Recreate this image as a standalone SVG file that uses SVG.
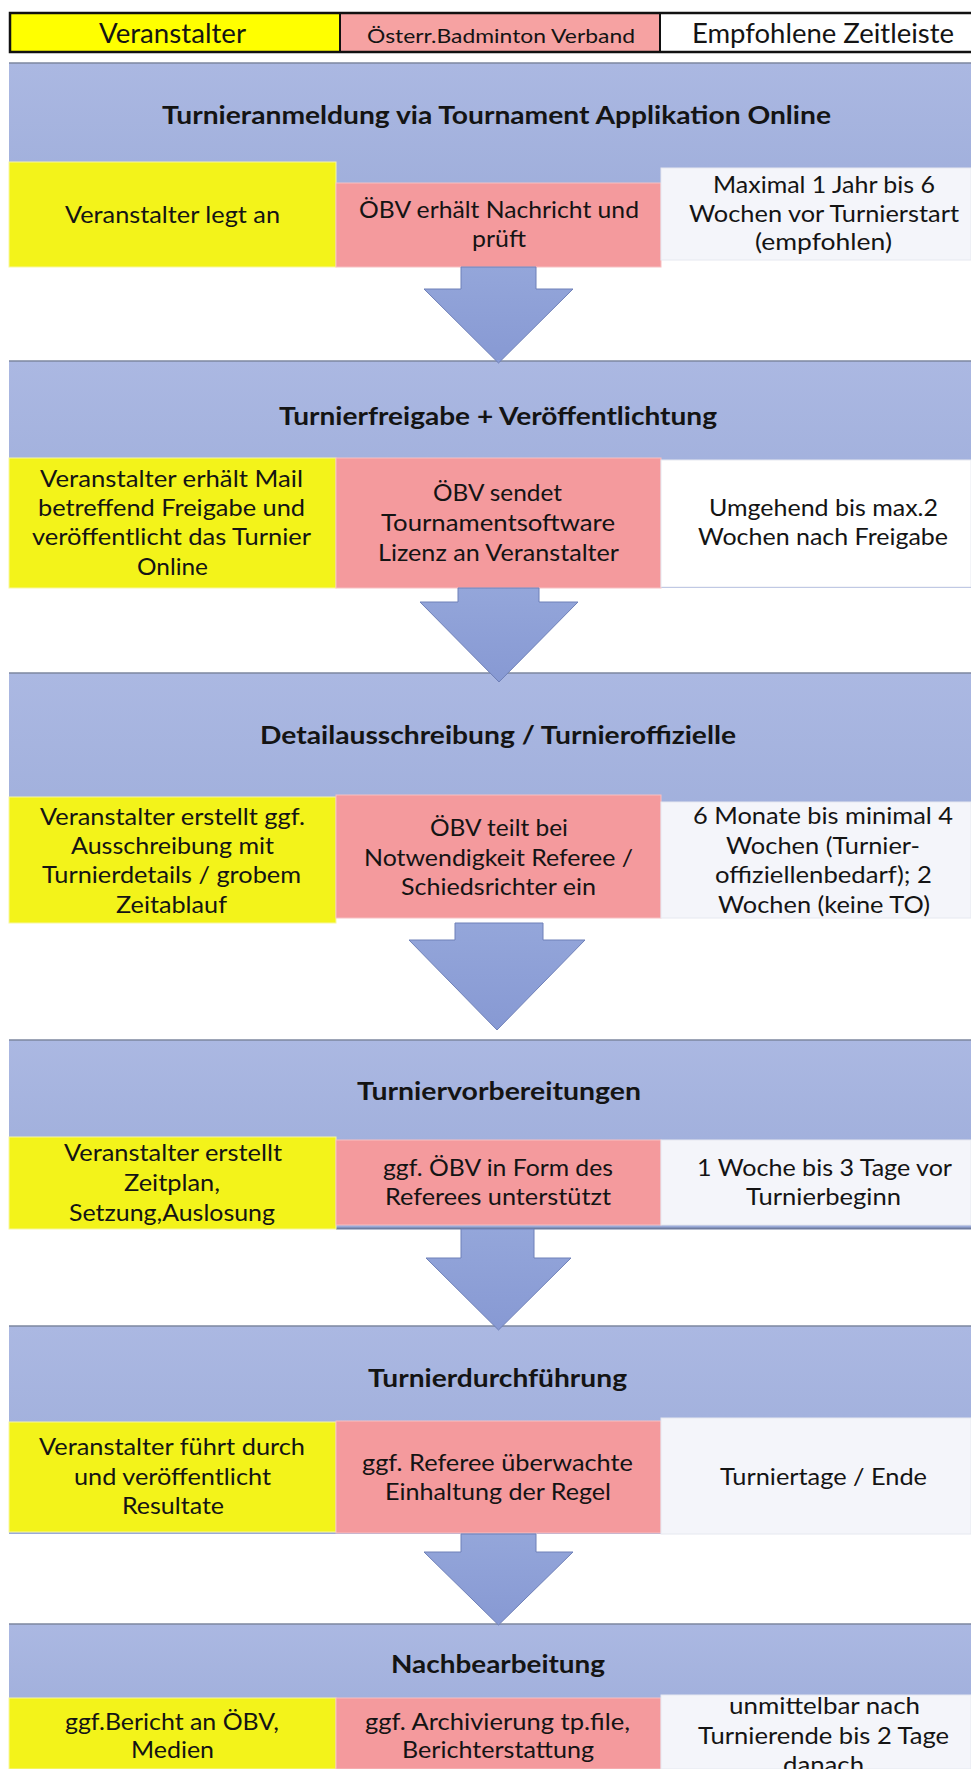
<svg xmlns="http://www.w3.org/2000/svg" width="971" height="1769" viewBox="0 0 971 1769">
<defs>
<linearGradient id="bandGrad" x1="0" y1="0" x2="0" y2="1">
<stop offset="0" stop-color="#abb8e2"/>
<stop offset="1" stop-color="#9aaad8"/>
</linearGradient>
<linearGradient id="arrowGrad" x1="0" y1="0" x2="0" y2="1">
<stop offset="0" stop-color="#94a6da"/>
<stop offset="1" stop-color="#8799d3"/>
</linearGradient>
</defs>
<style>
text{font-family:Lato,"Open Sans","Liberation Sans",sans-serif;fill:#141414}
.b{font-size:23px}
.t{font-size:25px;font-weight:bold}
.h{font-size:27px}
.hs{font-size:20px}
.band{fill:url(#bandGrad)}
.bandTop{stroke:#7c879f;stroke-width:1.5}
.y{fill:#f3f31a;stroke:#f7f7a0;stroke-width:1}
.p{fill:#f49a9d;stroke:#f7c0c2;stroke-width:1}
.w{fill:#f4f5fa;stroke:#e6e8f0;stroke-width:1}
.arrow{fill:url(#arrowGrad);stroke:#6f80b8;stroke-width:1}
</style>
<rect x="0" y="0" width="971" height="1769" fill="#ffffff"/>

<g id="header">
<rect x="10" y="13" width="330" height="39" fill="#ffff00"/>
<rect x="340" y="13" width="320" height="39" fill="#f6a2a2"/>
<rect x="660" y="13" width="311" height="39" fill="#ffffff"/>
<rect x="10" y="13" width="963" height="39" fill="none" stroke="#111" stroke-width="2.5"/>
<line x1="340" y1="13" x2="340" y2="52" stroke="#111" stroke-width="2"/>
<line x1="660" y1="13" x2="660" y2="52" stroke="#111" stroke-width="2"/>
<text class="h" x="99" y="43" textLength="147" lengthAdjust="spacingAndGlyphs">Veranstalter</text>
<text class="hs" x="367" y="43" textLength="268" lengthAdjust="spacingAndGlyphs">Österr.Badminton Verband</text>
<text class="h" x="692" y="43" textLength="262" lengthAdjust="spacingAndGlyphs">Empfohlene Zeitleiste</text>
</g>

<g id="step1">
<rect class="band" x="9" y="63" width="962" height="197"/>
<line class="bandTop" x1="9" y1="63" x2="971" y2="63"/>
<text class="t" x="162" y="124" textLength="669" lengthAdjust="spacingAndGlyphs">Turnieranmeldung via Tournament Applikation Online</text>
<rect class="y" x="9" y="162" width="327" height="105"/>
<rect class="p" x="336" y="183" width="325" height="84"/>
<rect class="w" x="661" y="168" width="310" height="92"/>
<text class="b" x="65" y="223" textLength="215" lengthAdjust="spacingAndGlyphs">Veranstalter legt an</text>
<text class="b" x="359" y="218" textLength="280" lengthAdjust="spacingAndGlyphs">ÖBV erhält Nachricht und</text>
<text class="b" x="472" y="247" textLength="54" lengthAdjust="spacingAndGlyphs">prüft</text>
<text class="b" x="713" y="193" textLength="222" lengthAdjust="spacingAndGlyphs">Maximal 1 Jahr bis 6</text>
<text class="b" x="689" y="222" textLength="270" lengthAdjust="spacingAndGlyphs">Wochen vor Turnierstart</text>
<text class="b" x="755" y="250" textLength="137" lengthAdjust="spacingAndGlyphs">(empfohlen)</text>
</g>

<g id="step2">
<rect class="band" x="9" y="361" width="962" height="227"/>
<line class="bandTop" x1="9" y1="361" x2="971" y2="361"/>
<text class="t" x="279" y="425" textLength="438" lengthAdjust="spacingAndGlyphs">Turnierfreigabe + Veröffentlichtung</text>
<rect class="y" x="9" y="458" width="327" height="130"/>
<rect class="p" x="336" y="458" width="325" height="130"/>
<rect x="661" y="460" width="310" height="127" fill="#ffffff" stroke="#e6e8f0" stroke-width="1"/>
<text class="b" x="40" y="487" textLength="263" lengthAdjust="spacingAndGlyphs">Veranstalter erhält Mail</text>
<text class="b" x="38" y="516" textLength="267" lengthAdjust="spacingAndGlyphs">betreffend Freigabe und</text>
<text class="b" x="32" y="545" textLength="279" lengthAdjust="spacingAndGlyphs">veröffentlicht das Turnier</text>
<text class="b" x="137" y="575" textLength="71" lengthAdjust="spacingAndGlyphs">Online</text>
<text class="b" x="433" y="501" textLength="129" lengthAdjust="spacingAndGlyphs">ÖBV sendet</text>
<text class="b" x="381" y="531" textLength="234" lengthAdjust="spacingAndGlyphs">Tournamentsoftware</text>
<text class="b" x="378" y="561" textLength="241" lengthAdjust="spacingAndGlyphs">Lizenz an Veranstalter</text>
<text class="b" x="709" y="516" textLength="229" lengthAdjust="spacingAndGlyphs">Umgehend bis max.2</text>
<text class="b" x="698" y="545" textLength="250" lengthAdjust="spacingAndGlyphs">Wochen nach Freigabe</text>
</g>

<g id="step3">
<rect class="band" x="9" y="673" width="962" height="245"/>
<line class="bandTop" x1="9" y1="673" x2="971" y2="673"/>
<text class="t" x="260" y="744" textLength="476" lengthAdjust="spacingAndGlyphs">Detailausschreibung / Turnieroffizielle</text>
<rect class="y" x="9" y="797" width="327" height="126"/>
<rect class="p" x="336" y="795" width="325" height="123"/>
<rect class="w" x="661" y="802" width="310" height="116"/>
<text class="b" x="40" y="825" textLength="265" lengthAdjust="spacingAndGlyphs">Veranstalter erstellt ggf.</text>
<text class="b" x="71" y="854" textLength="203" lengthAdjust="spacingAndGlyphs">Ausschreibung mit</text>
<text class="b" x="42" y="883" textLength="259" lengthAdjust="spacingAndGlyphs">Turnierdetails / grobem</text>
<text class="b" x="116" y="913" textLength="111" lengthAdjust="spacingAndGlyphs">Zeitablauf</text>
<text class="b" x="430" y="836" textLength="138" lengthAdjust="spacingAndGlyphs">ÖBV teilt bei</text>
<text class="b" x="364" y="866" textLength="269" lengthAdjust="spacingAndGlyphs">Notwendigkeit Referee /</text>
<text class="b" x="401" y="895" textLength="195" lengthAdjust="spacingAndGlyphs">Schiedsrichter ein</text>
<text class="b" x="693" y="824" textLength="260" lengthAdjust="spacingAndGlyphs">6 Monate bis minimal 4</text>
<text class="b" x="726" y="854" textLength="194" lengthAdjust="spacingAndGlyphs">Wochen (Turnier-</text>
<text class="b" x="715" y="883" textLength="217" lengthAdjust="spacingAndGlyphs">offiziellenbedarf); 2</text>
<text class="b" x="718" y="913" textLength="212" lengthAdjust="spacingAndGlyphs">Wochen (keine TO)</text>
</g>

<g id="step4">
<rect class="band" x="9" y="1040" width="962" height="189"/>
<line class="bandTop" x1="9" y1="1040" x2="971" y2="1040"/>
<line x1="336" y1="1228.5" x2="971" y2="1228.5" stroke="#6f7ca0" stroke-width="2"/>
<text class="t" x="357" y="1100" textLength="284" lengthAdjust="spacingAndGlyphs">Turniervorbereitungen</text>
<rect class="y" x="9" y="1137" width="327" height="92"/>
<rect class="p" x="336" y="1140" width="325" height="85"/>
<rect class="w" x="661" y="1140" width="310" height="85"/>
<text class="b" x="64" y="1161" textLength="218" lengthAdjust="spacingAndGlyphs">Veranstalter erstellt</text>
<text class="b" x="124" y="1191" textLength="96" lengthAdjust="spacingAndGlyphs">Zeitplan,</text>
<text class="b" x="69" y="1221" textLength="206" lengthAdjust="spacingAndGlyphs">Setzung,Auslosung</text>
<text class="b" x="383" y="1176" textLength="230" lengthAdjust="spacingAndGlyphs">ggf. ÖBV in Form des</text>
<text class="b" x="385" y="1205" textLength="226" lengthAdjust="spacingAndGlyphs">Referees unterstützt</text>
<text class="b" x="697" y="1176" textLength="255" lengthAdjust="spacingAndGlyphs">1 Woche bis 3 Tage vor</text>
<text class="b" x="746" y="1205" textLength="155" lengthAdjust="spacingAndGlyphs">Turnierbeginn</text>
</g>

<g id="step5">
<rect class="band" x="9" y="1326" width="962" height="208"/>
<line class="bandTop" x1="9" y1="1326" x2="971" y2="1326"/>
<text class="t" x="368" y="1387" textLength="259" lengthAdjust="spacingAndGlyphs">Turnierdurchführung</text>
<rect class="y" x="9" y="1422" width="327" height="110"/>
<rect class="p" x="336" y="1421" width="325" height="112"/>
<rect class="w" x="661" y="1418" width="310" height="116"/>
<text class="b" x="39" y="1455" textLength="266" lengthAdjust="spacingAndGlyphs">Veranstalter führt durch</text>
<text class="b" x="74" y="1485" textLength="197" lengthAdjust="spacingAndGlyphs">und veröffentlicht</text>
<text class="b" x="122" y="1514" textLength="102" lengthAdjust="spacingAndGlyphs">Resultate</text>
<text class="b" x="362" y="1471" textLength="271" lengthAdjust="spacingAndGlyphs">ggf. Referee überwachte</text>
<text class="b" x="385" y="1500" textLength="226" lengthAdjust="spacingAndGlyphs">Einhaltung der Regel</text>
<text class="b" x="720" y="1485" textLength="207" lengthAdjust="spacingAndGlyphs">Turniertage / Ende</text>
</g>

<g id="step6">
<rect class="band" x="9" y="1624" width="962" height="145"/>
<line class="bandTop" x1="9" y1="1624" x2="971" y2="1624"/>
<text class="t" x="391" y="1673" textLength="214" lengthAdjust="spacingAndGlyphs">Nachbearbeitung</text>
<rect class="y" x="9" y="1698" width="327" height="71"/>
<rect class="p" x="336" y="1698" width="325" height="71"/>
<rect class="w" x="661" y="1695" width="310" height="74"/>
<text class="b" x="65" y="1730" textLength="214" lengthAdjust="spacingAndGlyphs">ggf.Bericht an ÖBV,</text>
<text class="b" x="131" y="1758" textLength="83" lengthAdjust="spacingAndGlyphs">Medien</text>
<text class="b" x="365" y="1730" textLength="265" lengthAdjust="spacingAndGlyphs">ggf. Archivierung tp.file,</text>
<text class="b" x="402" y="1758" textLength="192" lengthAdjust="spacingAndGlyphs">Berichterstattung</text>
<text class="b" x="729" y="1714" textLength="191" lengthAdjust="spacingAndGlyphs">unmittelbar nach</text>
<text class="b" x="698" y="1744" textLength="251" lengthAdjust="spacingAndGlyphs">Turnierende bis 2 Tage</text>
<text class="b" x="783" y="1773" textLength="81" lengthAdjust="spacingAndGlyphs">danach</text>
</g>

<g id="connectors">
<path class="arrow" d="M461,267 H536 V289 H573 L498.5,363 L424,289 H461 Z"/>
<path class="arrow" d="M458,588 H539 V602 H578 L499,682 L420,602 H458 Z"/>
<path class="arrow" d="M455,923 H543 V940 H585 L497,1030 L409,940 H455 Z"/>
<path class="arrow" d="M461,1229 H534 V1258 H571 L498.5,1330 L426,1258 H461 Z"/>
<path class="arrow" d="M461,1534 H536 V1552 H573 L498.5,1625 L424,1552 H461 Z"/>
</g>
</svg>
